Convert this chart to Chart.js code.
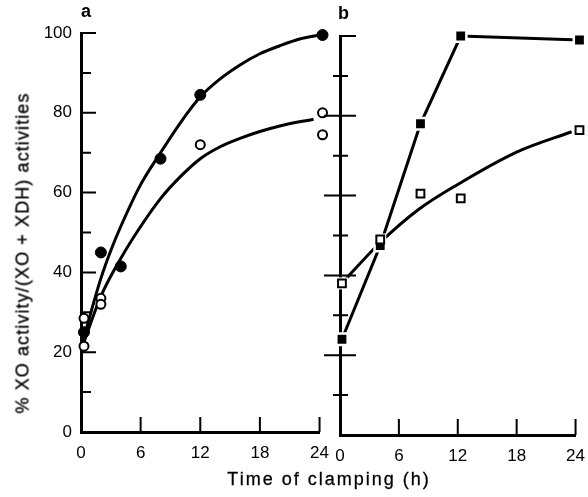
<!DOCTYPE html>
<html>
<head>
<meta charset="utf-8">
<script src="https://cdn.jsdelivr.net/npm/chart.js@4"></script>
<style>
  body { margin: 0; background: #fff; }
  #wrap { position: relative; width: 588px; height: 497px; overflow: hidden; font-family: "Liberation Sans", Arial, sans-serif; color: #000; }
  canvas { position: absolute; top: 0; }
  #chartA { left: 0; }
  #chartB { left: 318px; }
  .lbl { position: absolute; font-weight: bold; font-size: 18px; }
  #ytitle { position: absolute; left: 23px; top: 253px; transform: translate(-50%, -50%) rotate(-90deg); white-space: nowrap; font-size: 18px; letter-spacing: 1.1px; -webkit-text-stroke: 0.3px #000; }
  #xtitle { position: absolute; left: 329px; top: 479px; transform: translate(-50%, -50%); white-space: nowrap; font-size: 18px; letter-spacing: 2px; -webkit-text-stroke: 0.3px #000; }
</style>
</head>
<body>
<div id="wrap">
  <canvas id="chartA" width="340" height="497"></canvas>
  <canvas id="chartB" width="278" height="497"></canvas>
  <div class="lbl" style="left:81px; top:1px;">a</div>
  <div class="lbl" style="left:338px; top:3px;">b</div>
  <div id="ytitle">% XO activity/(XO + XDH) activities</div>
  <div id="xtitle">Time of clamping (h)</div>
</div>
<script>
// panel a: filled circles and open circles (two replicate sets of open)
var aFilledX = [0.3, 2, 4, 8, 12, 24.3];
var aFilledY = [25, 45, 41.5, 68.5, 84.5, 99.5];
var aOpenX = [0.3, 2, 12, 24.3, 0.3, 2, 24.3];
var aOpenY = [28.5, 33.5, 72, 80, 21.5, 32, 74.5];
// fitted curves in panel a
var aCurve1X = [0, 1, 2, 3, 4, 6, 8, 10, 12, 14, 16, 18, 20, 22, 24];
var aCurve1Y = [21, 30, 38.5, 45.5, 51.5, 62, 70, 77.5, 84, 88.5, 92, 94.8, 96.8, 98.5, 99.5];
var aCurve2X = [0, 2, 4, 6, 8, 10, 12, 14, 16, 18, 20, 23.4];
var aCurve2Y = [20.5, 34, 43.5, 51.5, 58.5, 64, 68.5, 71.5, 73.6, 75.3, 76.7, 78.4];

// panel b: filled squares (joined) and open squares
var bFilledX = [0.2, 4.1, 8.2, 12.3, 24.4];
var bFilledY = [24, 47.5, 78, 100, 99];
var bOpenX = [0.2, 4.1, 8.2, 12.3, 24.4];
var bOpenY = [38, 49, 60.5, 59.3, 76.4];
var bCurveX = [0, 4, 8, 12, 18, 23.6];
var bCurveY = [37.5, 48, 56.5, 62.8, 70.9, 76];

var xTicks = [0, 6, 12, 18, 24];

function pts(xs, ys) {
  return xs.map(function (x, i) { return { x: x, y: ys[i] }; });
}

// ticks pointing into the plot, drawn from the scales
var inTicks = {
  id: "inTicks",
  beforeDatasetsDraw: function (chart, args, o) {
    var ctx = chart.ctx, xs = chart.scales.x, ys = chart.scales.y, area = chart.chartArea;
    ctx.save();
    ctx.strokeStyle = "#000";
    ctx.lineWidth = 2;
    ctx.beginPath();
    xs.ticks.forEach(function (t) {
      if (t.value === xs.min) return;
      var px = xs.getPixelForValue(t.value);
      ctx.moveTo(px, area.bottom);
      ctx.lineTo(px, area.bottom - o.xLen);
    });
    ys.ticks.forEach(function (t) {
      if (t.value === ys.min) return;
      var py = ys.getPixelForValue(t.value);
      var major = t.value % 20 === 0;
      var r = major ? o.yMajor : o.yMinor;
      var l = major ? o.yMajorLeft : o.yMinorLeft;
      if (t.value === ys.max) l = 0;
      ctx.moveTo(area.left - l, py);
      ctx.lineTo(area.left + r, py);
    });
    ctx.stroke();
    ctx.restore();
  }
};

function scales(yWidth, xHeight, showY) {
  return {
    x: {
      type: "linear", min: 0, max: 24,
      afterBuildTicks: function (s) { s.ticks = xTicks.map(function (v) { return { value: v }; }); },
      afterFit: function (s) { s.height = xHeight; },
      grid: { drawOnChartArea: false, drawTicks: false },
      border: { display: true, width: 3, color: "#000" },
      ticks: { padding: 11, color: "#000", font: { family: "Liberation Sans", size: 17 } }
    },
    y: {
      type: "linear", min: 0, max: 100,
      afterFit: function (s) { s.width = yWidth; },
      grid: { drawOnChartArea: false, drawTicks: false },
      border: { display: true, width: 3, color: "#000" },
      ticks: {
        display: showY, stepSize: 10, padding: 9, color: "#000",
        font: { family: "Liberation Sans", size: 17 },
        callback: function (v) { return v % 20 === 0 ? v : ""; }
      }
    }
  };
}

function common(pad) {
  return {
    responsive: false, animation: false, devicePixelRatio: 1,
    layout: { padding: pad },
    plugins: { legend: { display: false }, tooltip: { enabled: false } }
  };
}

var optsA = common({ left: 0, right: 5, top: 33, bottom: 0 });
optsA.scales = scales(81, 65, true);
optsA.plugins.inTicks = { xLen: 15, yMajor: 15, yMinor: 10, yMajorLeft: 0, yMinorLeft: 0 };

new Chart(document.getElementById("chartA"), {
  type: "scatter",
  data: {
    datasets: [
      { data: pts(aCurve1X, aCurve1Y), showLine: true, borderColor: "#000", borderWidth: 3, pointRadius: 0, cubicInterpolationMode: "monotone", order: 3, clip: false },
      { data: pts(aCurve2X, aCurve2Y), showLine: true, borderColor: "#000", borderWidth: 3, pointRadius: 0, cubicInterpolationMode: "monotone", order: 3, clip: false },
      { data: pts(aOpenX, aOpenY), pointStyle: "circle", pointRadius: 4.5, backgroundColor: "#fff", borderColor: "#000", borderWidth: 2, order: 1, clip: false },
      { data: pts(aFilledX, aFilledY), pointStyle: "circle", pointRadius: 5.5, backgroundColor: "#000", borderColor: "#000", borderWidth: 1, order: 1, clip: false }
    ]
  },
  options: optsA,
  plugins: [inTicks]
});

var optsB = common({ left: 0, right: 5, top: 36, bottom: 0 });
optsB.scales = scales(22, 62, false);
optsB.plugins.inTicks = { xLen: 16, yMajor: 16, yMinor: 8, yMajorLeft: 16, yMinorLeft: 7 };

new Chart(document.getElementById("chartB"), {
  type: "scatter",
  data: {
    datasets: [
      { data: pts(bFilledX, bFilledY), showLine: true, borderColor: "#000", borderWidth: 3, pointRadius: 0, order: 3, clip: false },
      { data: pts(bCurveX, bCurveY), showLine: true, borderColor: "#000", borderWidth: 3, pointRadius: 0, cubicInterpolationMode: "monotone", order: 3, clip: false },
      { data: pts(bFilledX, bFilledY), pointStyle: "rect", pointRadius: 8, backgroundColor: "#000", borderColor: "#fff", borderWidth: 2.5, order: 1, clip: false },
      { data: pts(bOpenX, bOpenY), pointStyle: "rect", pointRadius: 8.5, backgroundColor: "#fff", borderColor: "#fff", borderWidth: 0, order: 2, clip: false },
      { data: pts(bOpenX, bOpenY), pointStyle: "rect", pointRadius: 5.5, backgroundColor: "#fff", borderColor: "#000", borderWidth: 2, order: 0, clip: false }
    ]
  },
  options: optsB,
  plugins: [inTicks]
});
</script>
</body>
</html>
